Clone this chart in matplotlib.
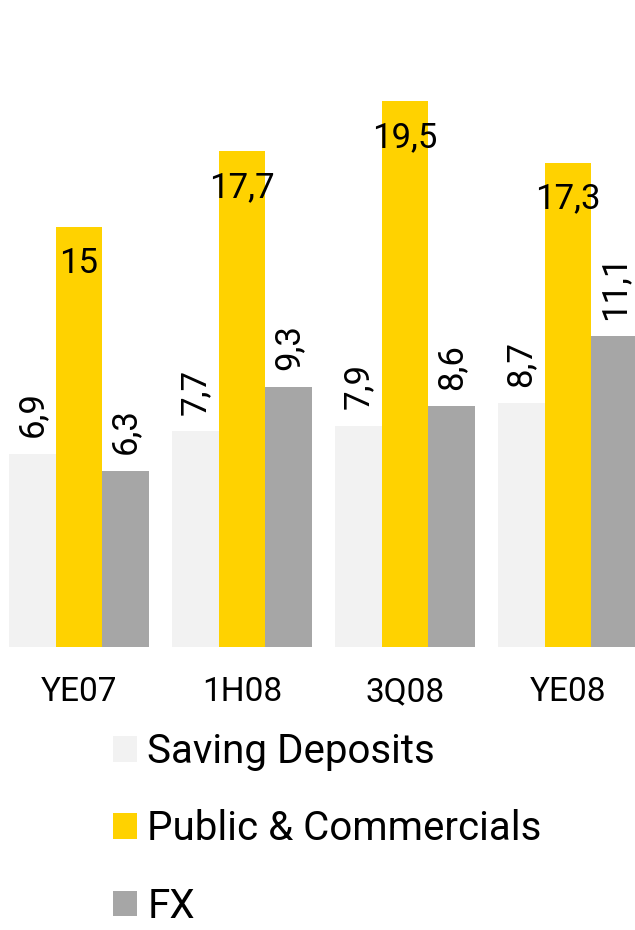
import matplotlib
matplotlib.use("Agg")
import matplotlib.pyplot as plt
import numpy as np

categories = ["YE07", "1H08", "3Q08", "YE08"]
series_names = ["Saving Deposits", "Public & Commercials", "FX"]
saving = [6.9, 7.7, 7.9, 8.7]
public = [15, 17.7, 19.5, 17.3]
fx = [6.3, 9.3, 8.6, 11.1]
colors = ["#F2F2F2", "#FFD200", "#A6A6A6"]

plt.rcParams['font.family'] = ['Roboto', 'DejaVu Sans']

fig = plt.figure(figsize=(6.35, 9.3), dpi=100)
ax = fig.add_axes([0, 283/930, 1, 647/930])

x = np.arange(len(categories))
w = 0.2865
def fmt(v):
    s = f"{v:g}"
    return s.replace(".", ",")

series = [saving, public, fx]
for i, (vals, name, col) in enumerate(zip(series, series_names, colors)):
    bars = ax.bar(x + (i - 1) * w, vals, w, color=col, label=name)
    for b, v in zip(bars, vals):
        cx = b.get_x() + b.get_width() / 2
        if i == 1:
            ax.annotate(fmt(v), (cx, v), xytext=(0, -33), textcoords="offset points",
                        ha="center", va="baseline", fontsize=25)
        else:
            ax.annotate(fmt(v), (cx, v), xytext=(0, 12), textcoords="offset points",
                        ha="center", va="bottom", rotation=90, fontsize=25)

ax.set_xlim(-79/163, (635-79)/163)
ax.set_ylim(0, 647/28)
ax.set_xticks(x)
ax.set_xticklabels(categories, fontsize=24)
ax.tick_params(axis="x", length=0, pad=21)
ax.set_yticks([])
for s in ax.spines.values():
    s.set_visible(False)

leg = fig.legend(loc="upper left", bbox_to_anchor=(113/635, 1 - 732/930),
                 frameon=False, fontsize=29, handlelength=0.6, handleheight=0.6,
                 handletextpad=0.25, labelspacing=0.95, borderaxespad=0, borderpad=0)

fig.savefig("out.png", dpi=100)
